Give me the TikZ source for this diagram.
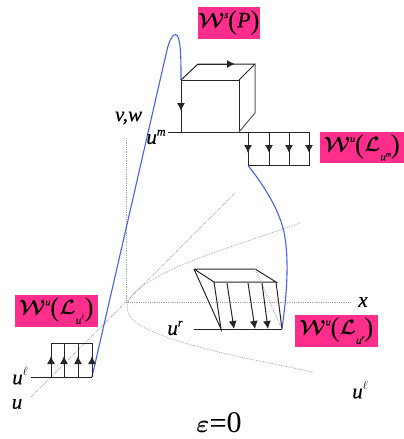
\documentclass[tikz,border=0pt]{standalone}
\usepackage{fontspec}
\usetikzlibrary{arrows.meta}
\newfontfamily\labfont{Liberation Serif}
\newfontfamily\labitalbase[ItalicFeatures={FakeBold=0.25}]{Liberation Serif}
\newcommand{\labital}{\labitalbase\itshape}
\newfontfamily\labbold[FakeBold=0.15]{Liberation Serif}
\definecolor{lab}{HTML}{FF2E8C}
\definecolor{curve}{HTML}{4A5FF0}
\definecolor{dot}{HTML}{A8A8A8}
\newcommand{\iu}[1]{{\labital #1}}
\newcommand{\sW}{{\boldmath$\mathcal{W}$}}
\newcommand{\sL}{{\boldmath$\mathcal{L}$}}
\newcommand{\sE}{{\boldmath$\varepsilon$}}
\newcommand{\sups}[1]{\raisebox{0.42em}{\fontsize{10}{11}\selectfont\labital #1}}
\newcommand{\subsm}[2]{\raisebox{-0.42em}{\fontsize{11}{11}\selectfont\labital #1\raisebox{0.35em}{\fontsize{7}{7}\selectfont #2}}}
\newcommand{\bigp}[1]{\raisebox{-0.1em}{\fontsize{27}{27}\selectfont\labfont #1}}
\tikzset{
  px/.style={x=1pt,y=-1pt},
  labelbox/.style={fill=lab,inner sep=0pt,anchor=center,font=\fontsize{22}{24}\selectfont},
  txt/.style={inner sep=0pt,anchor=center,font=\fontsize{21}{23}\selectfont},
  ink/.style={draw=black!85,line width=1pt},
  flow/.style={draw=black!85,line width=1pt,-{Latex[length=8pt,width=8pt]}},
  mani/.style={draw=curve,line width=1.1pt},
  axis/.style={draw=dot,line width=0.8pt,densely dotted}
}
\begin{document}
\begin{tikzpicture}[px]
\useasboundingbox (0,0) rectangle (404,439);
% axes
\coordinate (O) at (126.5,302.5);
\coordinate (xend) at (350,302.5);
\coordinate (vend) at (126.5,138);
\coordinate (uend) at (31,397);
\coordinate (uhi) at (235,193);
\draw[axis] (O) -- (xend);
\draw[axis] (O) -- (vend);
\draw[axis] (uend) -- (uhi);
\coordinate (pa) at (300,223);
\coordinate (pb) at (313,372);
\draw[axis] (pa) .. controls (230,248) and (175,262) .. (140,288)
  .. controls (122,302) and (122,316) .. (145,328)
  .. controls (180,346) and (245,358) .. (pb);
% blue manifolds
\coordinate (L) at (92,377);
\coordinate (Ctl) at (181,80);
\coordinate (Ub) at (248,165.5);
\coordinate (Rb) at (282,329);
\draw[mani] (L) -- (167,50) .. controls (170,37) and (175,31) .. (178,37)
  .. controls (181,44) and (181,62) .. (Ctl);
\draw[mani] (Ub) .. controls (258,178) and (278,205) .. (284,232)
  .. controls (290,262) and (286,300) .. (Rb);
% cube
\coordinate (Cbl) at (181,132);
\coordinate (Cbr) at (239,132);
\coordinate (Ctr) at (239,80);
\coordinate (Bl) at (198,64);
\coordinate (Br) at (255,64);
\coordinate (Brb) at (255,113);
\draw[ink] (Ctl) -- (Ctr) -- (Cbr);
\draw[ink] (Ctl) -- (Bl) -- (Br) -- (Ctr);
\draw[draw=black!65,line width=1pt] (Br) -- (Brb) -- (Cbr);
\draw[flow] (Ctl) -- (181,111);
\draw[ink] (181,108) -- (Cbl);
\draw[flow] (Bl) -- (235,64);
% u^m line and box
\coordinate (mL) at (168,132);
\coordinate (mR) at (309,132);
\draw[ink] (mL) -- (mR);
\draw[ink] (Ub) -- (309,165.5);
\foreach \x in {248,269,289,309}{
  \draw[flow] (\x,132) -- (\x,153);
  \draw[ink] (\x,150) -- (\x,165.5);
}
% left box
\coordinate (lL) at (31,377);
\draw[ink] (lL) -- (L);
\draw[ink] (51,343) -- (92,343);
\foreach \x in {51,64,78,92}{
  \draw[flow] (\x,377) -- (\x,356);
  \draw[ink] (\x,359) -- (\x,343);
}
% right wedge
\coordinate (rL) at (194,329);
\coordinate (a) at (194,269);
\coordinate (b) at (255,269);
\coordinate (c) at (214,282);
\coordinate (d) at (276,282);
\coordinate (e) at (221,329);
\draw[ink] (rL) -- (Rb);
\draw[ink] (a) -- (b) -- (d) -- (c) -- (a);
\draw[ink] (a) -- (e) -- (c);
\draw[ink] (d) -- (Rb);
\draw[axis] (b) -- (Rb);
\draw[flow] (227,283) -- (234,329);
\draw[flow] (248,283) -- (255,329);
\draw[flow] (262,283) -- (268,329);
% boxes
\node[labelbox,minimum width=62pt,minimum height=32pt] (ws) at (229,23) {\sW\sups{s}\bigp{(}\iu{P}\bigp{)}};
\node[labelbox,minimum width=84pt,minimum height=31pt] (wm) at (362,147.5) {\sW\sups{u}\bigp{(}\sL\subsm{u}{m}\bigp{)}};
\node[labelbox,minimum width=83pt,minimum height=32pt] (wl) at (56.5,311) {\sW\sups{u}\bigp{(}\sL\subsm{u}{$\ell$}\bigp{)}};
\node[labelbox,minimum width=83pt,minimum height=32pt] (wr) at (336.5,331) {\sW\sups{u}\bigp{(}\sL\subsm{u}{r}\bigp{)}};
% text
\node[txt] (vw) at (128.5,118) {\iu{v,w}};
\node[txt] (um) at (156,137) {\iu{u}\raisebox{0.4em}{\fontsize{12}{12}\selectfont\labital m}};
\node[txt] (ul) at (20,376) {\iu{u}\raisebox{0.4em}{\fontsize{12}{12}\selectfont$\ell$}};
\node[txt] (u) at (17,404) {\iu{u}};
\node[txt] (ur) at (175,328) {\iu{u}\raisebox{0.4em}{\fontsize{12}{12}\selectfont\labital r}};
\node[txt] (xl) at (363,302) {\iu{x}};
\node[txt] (ul2) at (360,390) {\iu{u}\raisebox{0.4em}{\fontsize{12}{12}\selectfont$\ell$}};
\node[inner sep=0pt,font=\fontsize{30}{32}\selectfont] (eps) at (219,423) {\sE{\labbold{}=}{\labfont{}0}};
\end{tikzpicture}
\end{document}
